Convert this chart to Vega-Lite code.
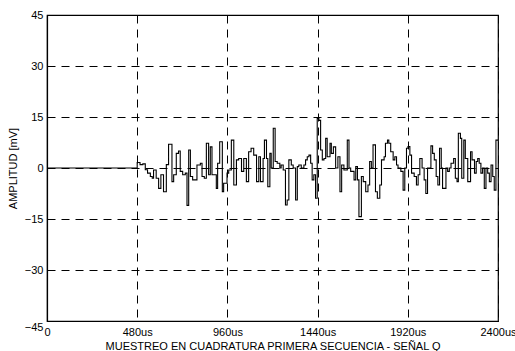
{
  "$schema": "https://vega.github.io/schema/vega-lite/v6.json",
  "width": 451,
  "height": 306,
  "autosize": "none",
  "padding": {"left": 47, "top": 15, "right": 17, "bottom": 30},
  "background": "white",
  "config": {"view": {"stroke": "black", "strokeWidth": 1.2}, "font": "Liberation Sans"},
  "data": {"values": [
    {"t":0,"v":0},{"t":480,"v":1.6},{"t":495,"v":1.0},{"t":510,"v":1.2},{"t":523,"v":-0.5},{"t":535,"v":-1.5},{"t":550,"v":-2.5},{"t":560,"v":-3},{"t":567,"v":-0.6},{"t":581,"v":-3},{"t":594,"v":-6},{"t":606,"v":-2},{"t":620,"v":-7},{"t":635,"v":1},{"t":647,"v":7},{"t":665,"v":-4},{"t":674,"v":-2},{"t":688,"v":4.3},{"t":700,"v":5},{"t":709,"v":-1},{"t":722,"v":-2},{"t":736,"v":-1.5},{"t":745,"v":-11},{"t":754,"v":5.3},{"t":763,"v":-2.5},{"t":775,"v":-3.5},{"t":798,"v":0.9},{"t":816,"v":1.4},{"t":825,"v":-2.5},{"t":837,"v":-3},{"t":848,"v":7.3},{"t":860,"v":-2},{"t":869,"v":6.2},{"t":878,"v":-2},{"t":901,"v":-6},{"t":908,"v":1.4},{"t":919,"v":7.7},{"t":933,"v":-7},{"t":940,"v":-4.5},{"t":958,"v":-1.5},{"t":967,"v":-0.6},{"t":981,"v":8.2},{"t":994,"v":-5},{"t":1008,"v":2.4},{"t":1020,"v":2.8},{"t":1035,"v":-1},{"t":1047,"v":2.8},{"t":1061,"v":-4},{"t":1073,"v":4.8},{"t":1086,"v":5.8},{"t":1100,"v":3.8},{"t":1115,"v":-4},{"t":1127,"v":3.3},{"t":1136,"v":-4},{"t":1150,"v":2.8},{"t":1157,"v":8.2},{"t":1168,"v":2.8},{"t":1175,"v":-5.5},{"t":1186,"v":4.3},{"t":1193,"v":0},{"t":1204,"v":11.7},{"t":1214,"v":1.9},{"t":1225,"v":1.4},{"t":1239,"v":0},{"t":1246,"v":0.9},{"t":1257,"v":-0.6},{"t":1269,"v":-10.9},{"t":1278,"v":-9.4},{"t":1287,"v":2.4},{"t":1300,"v":0.9},{"t":1310,"v":0},{"t":1323,"v":-9.4},{"t":1332,"v":0.4},{"t":1340,"v":0.9},{"t":1353,"v":0},{"t":1367,"v":0.9},{"t":1376,"v":2.4},{"t":1385,"v":3.3},{"t":1394,"v":3.8},{"t":1403,"v":1.4},{"t":1411,"v":-3.5},{"t":1420,"v":-2},{"t":1429,"v":-8.9},{"t":1438,"v":14.6},{"t":1447,"v":14},{"t":1456,"v":5.3},{"t":1465,"v":2.4},{"t":1474,"v":2.8},{"t":1483,"v":8.7},{"t":1491,"v":3.3},{"t":1506,"v":7.3},{"t":1513,"v":4.3},{"t":1524,"v":6.2},{"t":1536,"v":0},{"t":1548,"v":3.3},{"t":1559,"v":-7},{"t":1568,"v":0.9},{"t":1580,"v":-0.6},{"t":1598,"v":8.2},{"t":1607,"v":0},{"t":1616,"v":-1},{"t":1634,"v":-3.5},{"t":1643,"v":0.4},{"t":1652,"v":-3.5},{"t":1660,"v":-14.3},{"t":1673,"v":-2.5},{"t":1683,"v":-4},{"t":1696,"v":-7},{"t":1708,"v":-5},{"t":1717,"v":1.9},{"t":1726,"v":0},{"t":1735,"v":6.8},{"t":1748,"v":-7},{"t":1758,"v":-8.9},{"t":1771,"v":-5},{"t":1780,"v":2.4},{"t":1794,"v":3.3},{"t":1801,"v":7.3},{"t":1812,"v":8.2},{"t":1819,"v":7.3},{"t":1829,"v":4.8},{"t":1842,"v":2.4},{"t":1851,"v":3.3},{"t":1860,"v":0.9},{"t":1868,"v":0},{"t":1883,"v":-1},{"t":1895,"v":-6.5},{"t":1904,"v":0},{"t":1913,"v":5.8},{"t":1921,"v":6.3},{"t":1931,"v":3.8},{"t":1940,"v":-1.5},{"t":1954,"v":-2.5},{"t":1966,"v":-5},{"t":1975,"v":-2},{"t":1984,"v":2.8},{"t":1996,"v":0},{"t":2007,"v":-3.5},{"t":2016,"v":-7.5},{"t":2025,"v":0},{"t":2043,"v":6.5},{"t":2052,"v":4.3},{"t":2061,"v":2.4},{"t":2071,"v":-2.5},{"t":2080,"v":-5},{"t":2089,"v":5.8},{"t":2098,"v":0},{"t":2105,"v":-6},{"t":2123,"v":0},{"t":2132,"v":-1},{"t":2141,"v":0},{"t":2150,"v":1.4},{"t":2164,"v":2.8},{"t":2173,"v":-3},{"t":2182,"v":-4},{"t":2189,"v":10.2},{"t":2200,"v":8.7},{"t":2207,"v":-3},{"t":2218,"v":8.2},{"t":2226,"v":2.8},{"t":2239,"v":-4},{"t":2254,"v":4.8},{"t":2262,"v":2.4},{"t":2275,"v":-1.5},{"t":2284,"v":1.9},{"t":2292,"v":2.8},{"t":2300,"v":1.4},{"t":2309,"v":-1.5},{"t":2318,"v":0},{"t":2327,"v":-6},{"t":2336,"v":0},{"t":2345,"v":-1.5},{"t":2354,"v":-4},{"t":2363,"v":0.9},{"t":2372,"v":-2.5},{"t":2380,"v":-6.5},{"t":2389,"v":8.2},{"t":2400,"v":8.2}
  ]},
  "mark": {"type": "line", "interpolate": "step-after", "color": "black", "strokeWidth": 1.1},
  "encoding": {
    "x": {
      "field": "t", "type": "quantitative",
      "scale": {"domain": [0, 2400], "nice": false, "zero": false},
      "axis": {
        "values": [0, 480, 960, 1440, 1920, 2400],
        "labelExpr": "datum.value == 0 ? '0' : datum.value + 'us'",
        "title": "MUESTREO EN CUADRATURA PRIMERA SECUENCIA - SEÑAL Q",
        "grid": true, "gridColor": "black", "gridDash": [8, 6], "gridWidth": 1, "gridOpacity": 1,
        "domainColor": "black", "domainWidth": 1.2, "ticks": false,
        "labelFontSize": 11, "labelColor": "black", "labelPadding": 5,
        "labelFlush": false, "labelOverlap": false,
        "titleFontSize": 11, "titleFontWeight": "normal", "titleColor": "black", "titlePadding": 3
      }
    },
    "y": {
      "field": "v", "type": "quantitative",
      "scale": {"domain": [-45, 45], "nice": false},
      "axis": {
        "values": [-45, -30, -15, 0, 15, 30, 45],
        "title": "AMPLITUD [mV]",
        "grid": true, "gridColor": "black", "gridDash": [8, 6], "gridWidth": 1, "gridOpacity": 1,
        "domainColor": "black", "domainWidth": 1.2, "ticks": false,
        "labelFontSize": 11, "labelColor": "black", "labelPadding": 4,
        "labelFlush": false, "labelOverlap": false,
        "labelBaseline": {"condition": {"test": "datum.value == -45", "value": "top"}, "value": "middle"},
        "titleFontSize": 11, "titleFontWeight": "normal", "titleColor": "black", "titlePadding": 6
      }
    }
  }
}
